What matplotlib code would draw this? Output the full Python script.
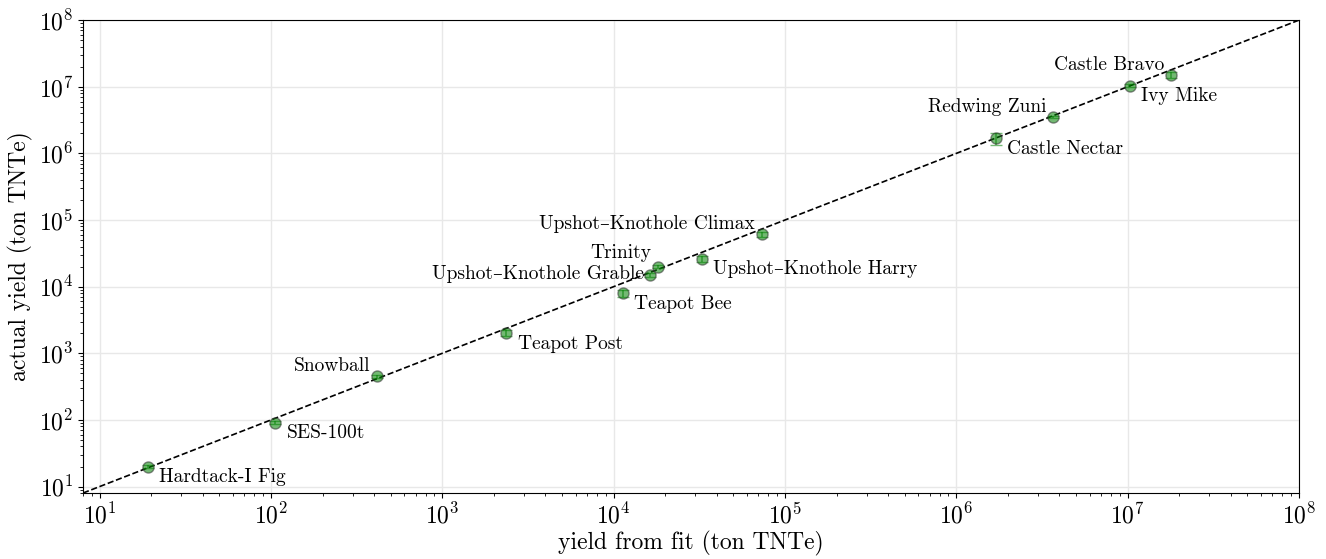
from matplotlib import pyplot as plt
import numpy as np

plt.rcParams['font.family'] = ['cmr10', 'DejaVu Serif']
plt.rcParams['mathtext.fontset'] = 'cm'
plt.rcParams['axes.formatter.use_mathtext'] = True

# tests: (name, yield from fit, actual yield, error on actual) in ton TNTe
names = ['Hardtack-I Fig', 'SES-100t', 'Snowball', 'Teapot Post', 'Teapot Bee',
         'Upshot\u2013Knothole Grable', 'Trinity', 'Upshot\u2013Knothole Harry',
         'Upshot\u2013Knothole Climax', 'Castle Nectar', 'Redwing Zuni',
         'Ivy Mike', 'Castle Bravo']
fit_yield = [19.1, 106, 415, 2370, 11300, 16400, 18100, 32900, 73000,
             1.70e6, 3.68e6, 1.03e7, 1.80e7]
actual_yield = [20, 91, 450, 2000, 8000, 15000, 20000, 26000, 61000,
                1.69e6, 3.53e6, 1.04e7, 1.5e7]
actual_err = [1, 5, 20, 200, 1000, 1000, 1000, 2500, 5000,
              0.35e6, 0.1e6, 0.5e6, 1.5e6]
# label placement: True -> below right of the point, False -> above left
below_right = [True, True, False, True, True, False, False, True, False,
               True, False, True, False]

fig, ax = plt.subplots(figsize=(13.26, 5.59), dpi=100)
fig.subplots_adjust(left=0.0626, right=0.9796, top=0.964, bottom=0.118)

lims = [8, 1e8]
ax.plot(lims, lims, 'k--', lw=1.2, zorder=3)
ax.errorbar(fit_yield, actual_yield, yerr=actual_err, fmt='o', color='green',
            alpha=0.55, mec='#333333', ms=8, capsize=4, elinewidth=1.2, zorder=4)

for name, x, y, br in zip(names, fit_yield, actual_yield, below_right):
    if br:
        off, ha, va = (8, -1), 'left', 'top'
    elif name.endswith('Grable'):
        off, ha, va = (-5, -6), 'right', 'bottom'   # keep clear of Trinity
    elif name == 'Trinity':
        off, ha, va = (-5, 3), 'right', 'bottom'
    else:
        off, ha, va = (-5, 1), 'right', 'bottom'
    ax.annotate(name, (x, y), xytext=off, textcoords='offset points',
                ha=ha, va=va, fontsize=14)

ax.set_xscale('log')
ax.set_yscale('log')
ax.set_xlim(lims)
ax.set_ylim(lims)
ax.set_xticks([10.0**k for k in range(1, 9)])
ax.set_yticks([10.0**k for k in range(1, 9)])
ax.grid(True, color='#e8e8e8', lw=1)
ax.set_axisbelow(True)
ax.tick_params(labelsize=17)
ax.set_xlabel('yield from fit (ton TNTe)', fontsize=17, labelpad=2)
ax.set_ylabel('actual yield (ton TNTe)', fontsize=17, labelpad=4)

plt.savefig('out.png')
